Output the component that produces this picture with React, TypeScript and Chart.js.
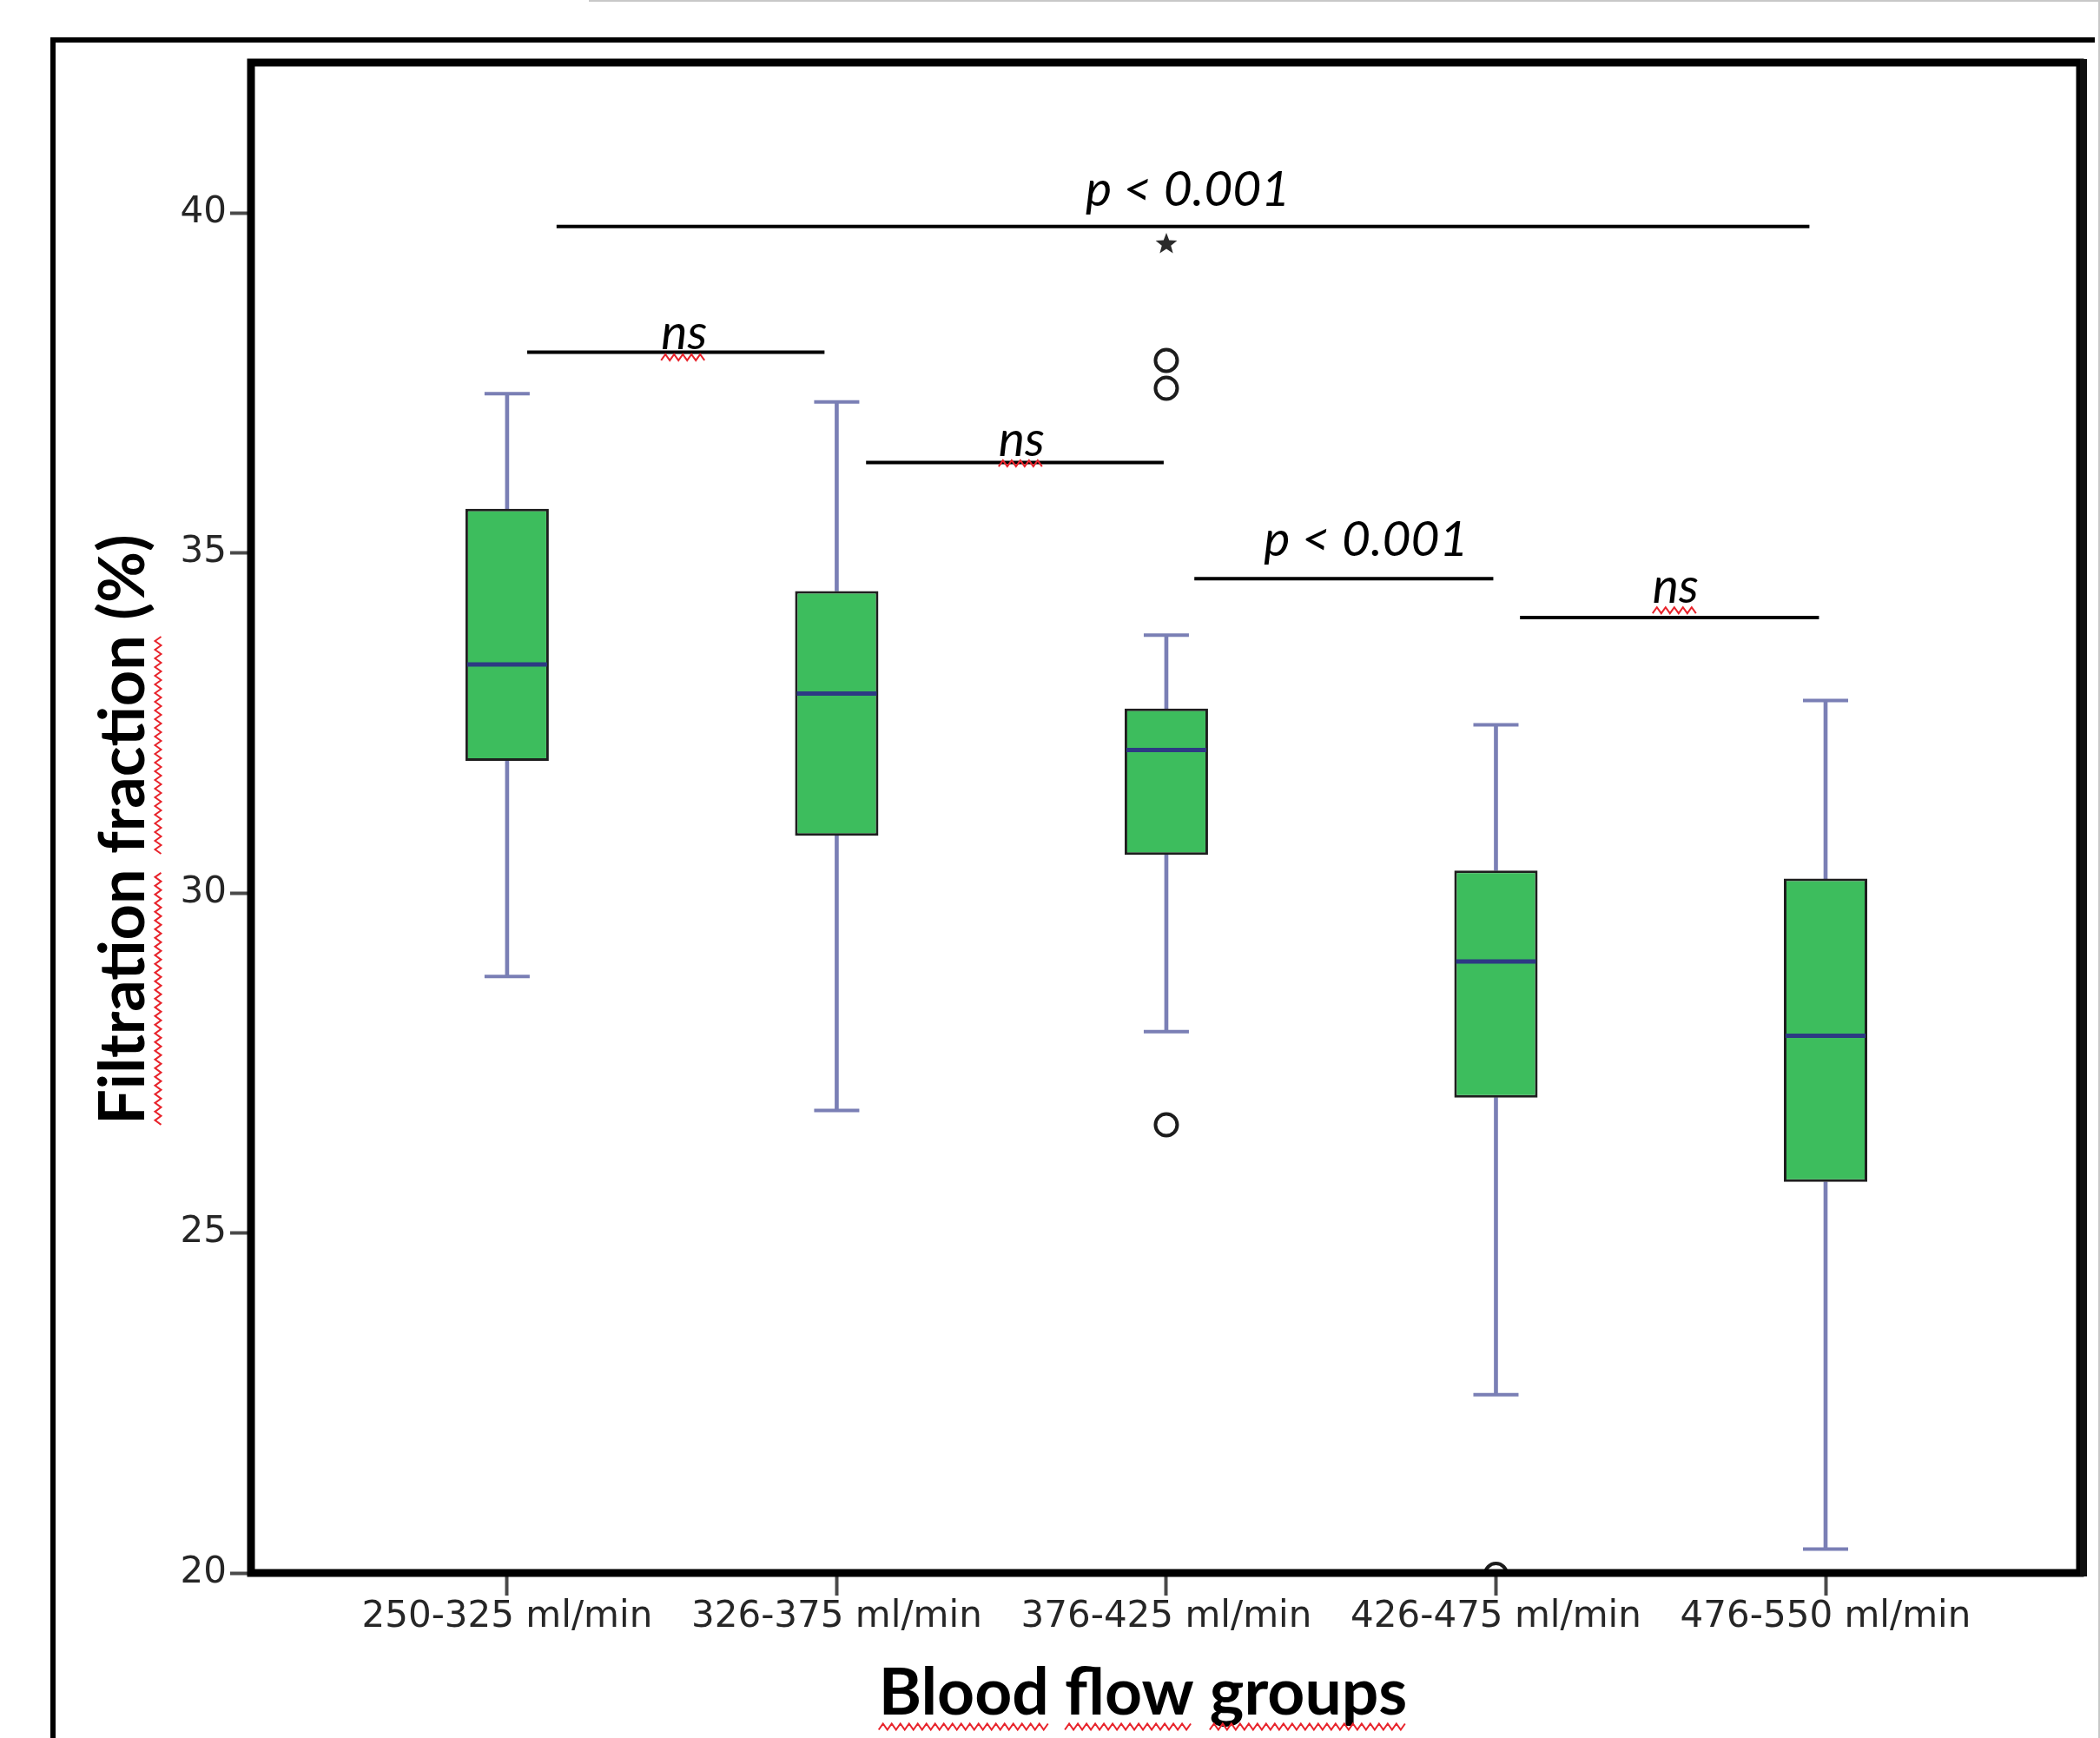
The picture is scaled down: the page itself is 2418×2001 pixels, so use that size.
import React, { useEffect, useRef } from 'react';
import { Chart, registerables } from 'chart.js';

Chart.register(...registerables);

// ---------- data ----------
const categories = ['250-325 ml/min', '326-375 ml/min', '376-425 ml/min', '426-475 ml/min', '476-550 ml/min'];
const whiskerLow = [28.77, 26.8, 27.96, 22.62, 20.35];
const quartile1 = [31.94, 30.84, 30.56, 26.99, 25.75];
const medians = [33.36, 32.93, 32.1, 28.99, 27.9];
const quartile3 = [35.65, 34.44, 32.71, 30.33, 30.21];
const whiskerHigh = [37.34, 37.22, 33.79, 32.47, 32.83];

const outlierGroup = [2, 2, 2, 3];
const outlierValue = [37.83, 37.42, 26.59, 19.98];
const extremeGroup = [2];
const extremeValue = [39.54];

const yTicks = [20, 25, 30, 35, 40];

const bracketStart = [0.15, 0.061, 1.089, 2.085, 3.073];
const bracketEnd = [3.951, 0.963, 1.992, 2.992, 3.98];
const bracketLevel = [39.8, 37.95, 36.33, 34.62, 34.05];
const bracketLabel = ['p < 0.001', 'ns', 'ns', 'p < 0.001', 'ns'];
const bracketLabelX = [2.065, 0.537, 1.561, 2.606, 3.545];
const bracketLabelLevel = [40.1, 37.99, 36.43, 34.96, 34.27];

const xTitle = 'Blood flow groups';
const yTitle = 'Filtration fraction (%)';

// ---------- styles ----------
const BOX_FILL = '#3dbd5d';
const BOX_EDGE = '#1e1e1e';
const WHISKER = '#7a7fb5';
const MEDIAN = '#2d3a84';
const TEXT = '#262626';

function makeStar(): HTMLCanvasElement {
  const c = document.createElement('canvas');
  c.width = 30;
  c.height = 30;
  const g = c.getContext('2d')!;
  g.fillStyle = '#2a2a2a';
  g.beginPath();
  for (let k = 0; k < 10; k++) {
    const r = k % 2 === 0 ? 13 : 5.5;
    const a = -Math.PI / 2 + (k * Math.PI) / 5;
    const px = 15 + r * Math.cos(a);
    const py = 15 + r * Math.sin(a);
    if (k === 0) g.moveTo(px, py);
    else g.lineTo(px, py);
  }
  g.closePath();
  g.fill();
  return c;
}

function squiggle(ctx: CanvasRenderingContext2D, x1: number, x2: number, y: number) {
  const step = 5;
  const amp = 3.5;
  ctx.save();
  ctx.strokeStyle = '#e8232b';
  ctx.lineWidth = 2;
  ctx.beginPath();
  let up = true;
  ctx.moveTo(x1, y + amp);
  for (let x = x1 + step; x <= x2; x += step) {
    ctx.lineTo(x, up ? y - amp : y + amp);
    up = !up;
  }
  ctx.stroke();
  ctx.restore();
}

const decorPlugin = {
  id: 'decor',
  afterDraw(chart: any) {
    const { ctx, chartArea } = chart;
    const xs = chart.scales.x;
    const ys = chart.scales.y;
    ctx.save();

    // faint page edges
    ctx.strokeStyle = '#c8c8c8';
    ctx.lineWidth = 2;
    ctx.beginPath();
    ctx.moveTo(678, 1);
    ctx.lineTo(2418, 1);
    ctx.moveTo(2417, 0);
    ctx.lineTo(2417, 2001);
    ctx.stroke();

    // outer frame
    ctx.strokeStyle = '#000';
    ctx.lineWidth = 6;
    ctx.beginPath();
    ctx.moveTo(61, 2001);
    ctx.lineTo(61, 46);
    ctx.lineTo(2412, 46);
    ctx.stroke();

    // inner frame (plot area)
    ctx.lineWidth = 9;
    ctx.strokeRect(chartArea.left, chartArea.top, chartArea.right - chartArea.left, chartArea.bottom - chartArea.top);
    ctx.fillStyle = '#111';
    ctx.fillRect(chartArea.right, chartArea.top - 4, 8, chartArea.bottom - chartArea.top + 8);

    // bracket labels
    ctx.fillStyle = '#000';
    ctx.textAlign = 'center';
    ctx.textBaseline = 'alphabetic';
    ctx.font = 'italic 57px Lato';
    bracketLabel.forEach((lab, i) => {
      const px = xs.getPixelForValue(bracketLabelX[i]);
      const py = ys.getPixelForValue(bracketLabelLevel[i]);
      ctx.fillText(lab, px, py);
      if (lab === 'ns') {
        const w = ctx.measureText(lab).width;
        squiggle(ctx, px - w / 2, px + w / 2, py + 9);
      }
    });

    // x title
    ctx.font = 'bold 75px Lato';
    ctx.fillStyle = '#000';
    ctx.textAlign = 'left';
    const xw = ctx.measureText(xTitle).width;
    const xStart = 1316 - xw / 2;
    ctx.fillText(xTitle, xStart, 1974);
    let cur = xStart;
    xTitle.split(' ').forEach((word) => {
      const ww = ctx.measureText(word).width;
      squiggle(ctx, cur, cur + ww, 1988);
      cur += ww + ctx.measureText(' ').width;
    });

    // y title
    ctx.save();
    ctx.translate(166, 955);
    ctx.rotate(-Math.PI / 2);
    ctx.font = 'bold 72px Lato';
    ctx.textAlign = 'left';
    const yw = ctx.measureText(yTitle).width;
    ctx.fillText(yTitle, -yw / 2, 0);
    let c2 = -yw / 2;
    yTitle.split(' ').slice(0, 2).forEach((word) => {
      const ww = ctx.measureText(word).width;
      squiggle(ctx, c2, c2 + ww, 16);
      c2 += ww + ctx.measureText(' ').width;
    });
    ctx.restore();

    ctx.restore();
  },
};

export default function App() {
  const ref = useRef<HTMLCanvasElement>(null);

  useEffect(() => {
    const canvas = ref.current;
    if (!canvas) return;
    const star = makeStar();

    const idx = categories.map((_, i) => i);

    const datasets: any[] = [
      {
        type: 'bar',
        label: 'lower whisker',
        data: idx.map((i) => ({ x: i, y: [whiskerLow[i], quartile1[i]] })),
        backgroundColor: WHISKER,
        borderWidth: 0,
        barThickness: 4,
        grouped: false,
        order: 6,
      },
      {
        type: 'bar',
        label: 'upper whisker',
        data: idx.map((i) => ({ x: i, y: [quartile3[i], whiskerHigh[i]] })),
        backgroundColor: WHISKER,
        borderWidth: 0,
        barThickness: 4,
        grouped: false,
        order: 6,
      },
      {
        type: 'bar',
        label: 'IQR',
        data: idx.map((i) => ({ x: i, y: [quartile1[i], quartile3[i]] })),
        backgroundColor: BOX_FILL,
        borderColor: BOX_EDGE,
        borderWidth: 3,
        borderSkipped: false,
        barPercentage: 0.253,
        categoryPercentage: 1,
        grouped: false,
        order: 5,
      },
      {
        type: 'scatter',
        label: 'median',
        data: idx.map((i) => ({ x: i, y: medians[i] })),
        pointStyle: 'line',
        pointRadius: 46,
        pointHoverRadius: 46,
        borderWidth: 5,
        borderColor: MEDIAN,
        order: 4,
      },
      {
        type: 'scatter',
        label: 'caps',
        data: [
          ...idx.map((i) => ({ x: i, y: whiskerLow[i] })),
          ...idx.map((i) => ({ x: i, y: whiskerHigh[i] })),
        ],
        pointStyle: 'line',
        pointRadius: 26,
        pointHoverRadius: 26,
        borderWidth: 4,
        borderColor: WHISKER,
        order: 4,
      },
      {
        type: 'scatter',
        label: 'outliers',
        data: outlierGroup.map((g, k) => ({ x: g, y: outlierValue[k] })),
        pointStyle: 'circle',
        pointRadius: 12.5,
        pointHoverRadius: 12.5,
        borderWidth: 4,
        borderColor: '#1c1c1c',
        backgroundColor: 'rgba(255,255,255,0)',
        order: 2,
      },
      {
        type: 'scatter',
        label: 'extremes',
        data: extremeGroup.map((g, k) => ({ x: g, y: extremeValue[k] })),
        pointStyle: star,
        pointRadius: 14,
        order: 2,
      },
      ...bracketLabel.map((lab, i) => ({
        type: 'line',
        label: 'bracket ' + lab + ' ' + i,
        data: [
          { x: bracketStart[i], y: bracketLevel[i] },
          { x: bracketEnd[i], y: bracketLevel[i] },
        ],
        borderColor: '#000',
        borderWidth: 4,
        pointRadius: 0,
        pointHoverRadius: 0,
        fill: false,
        order: 1,
      })),
    ];

    const tickFont = { family: 'DejaVu Sans', size: 42 };

    const chart = new Chart(canvas, {
      type: 'bar',
      data: { datasets },
      plugins: [decorPlugin],
      options: {
        animation: false,
        responsive: false,
        devicePixelRatio: 1,
        layout: { autoPadding: false, padding: { top: 72, right: 23, left: 0, bottom: 0 } },
        plugins: {
          legend: { display: false },
          tooltip: { enabled: false },
          title: { display: false },
        },
        scales: {
          x: {
            type: 'linear',
            min: -0.777,
            max: 4.772,
            offset: false,
            border: { display: false },
            grid: {
              display: true,
              offset: false,
              drawOnChartArea: false,
              drawTicks: true,
              tickLength: 26,
              tickWidth: 4,
              tickColor: '#4a4a4a',
            },
            ticks: {
              autoSkip: false,
              maxRotation: 0,
              minRotation: 0,
              padding: 0,
              color: TEXT,
              font: tickFont,
              callback: (v: any) => categories[v as number] ?? '',
            },
            afterBuildTicks: (s: any) => {
              s.ticks = categories.map((_, i) => ({ value: i }));
            },
            afterFit: (s: any) => {
              s.height = 190;
              s.paddingLeft = 0;
              s.paddingRight = 0;
            },
          },
          y: {
            type: 'linear',
            min: 20,
            max: 42.21,
            border: { display: false },
            grid: {
              display: true,
              drawOnChartArea: false,
              drawTicks: true,
              tickLength: 24,
              tickWidth: 4,
              tickColor: '#4a4a4a',
            },
            ticks: {
              padding: 4,
              color: TEXT,
              font: tickFont,
            },
            afterBuildTicks: (s: any) => {
              s.ticks = yTicks.map((v) => ({ value: v }));
            },
            afterFit: (s: any) => {
              s.width = 289;
              s.paddingTop = 0;
              s.paddingBottom = 0;
            },
          },
        },
      } as any,
    });

    return () => chart.destroy();
  }, []);

  return (
    <div style={{ position: 'fixed', left: 0, top: 0, width: 2418, height: 2001, background: '#fff' }}>
      <canvas ref={ref} width={2418} height={2001} style={{ display: 'block', width: 2418, height: 2001 }} />
    </div>
  );
}
